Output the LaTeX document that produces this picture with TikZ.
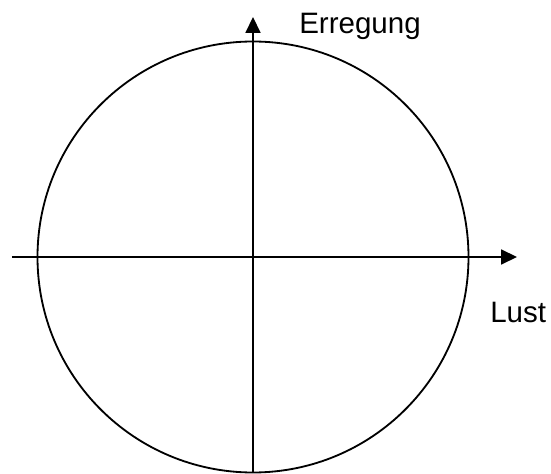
\documentclass[tikz,border=0pt]{standalone}
\usepackage{fontspec}
\setmainfont{Liberation Sans}
\usetikzlibrary{arrows.meta}
\tikzset{>={Triangle[length=11.3pt,width=10.6pt]},
  every node/.style={font=\fontsize{21}{25}\selectfont,inner sep=0pt},
  axis/.style={->,draw=black,line width=1.4pt},
  curve/.style={draw=black,line width=1.3pt},
  axislabel/.style={anchor=base west}}
\begin{document}
\begin{tikzpicture}[x=0.025cm,y=0.025cm]
\useasboundingbox (-253,-216) rectangle (298,257);
\coordinate (m) at (0,0);
\coordinate (west) at (-241,0);
\coordinate (east) at (264,0);
\coordinate (south) at (0,-216);
\coordinate (north) at (0,240);
\draw[curve] (m) circle (215.5);
\draw[axis] (west)--(east);
\draw[axis] (south)--(north);
\node[axislabel] (erregung) at (46,223) {Erregung};
\node[axislabel] (lust) at (237,-65) {Lust};
\end{tikzpicture}
\end{document}
